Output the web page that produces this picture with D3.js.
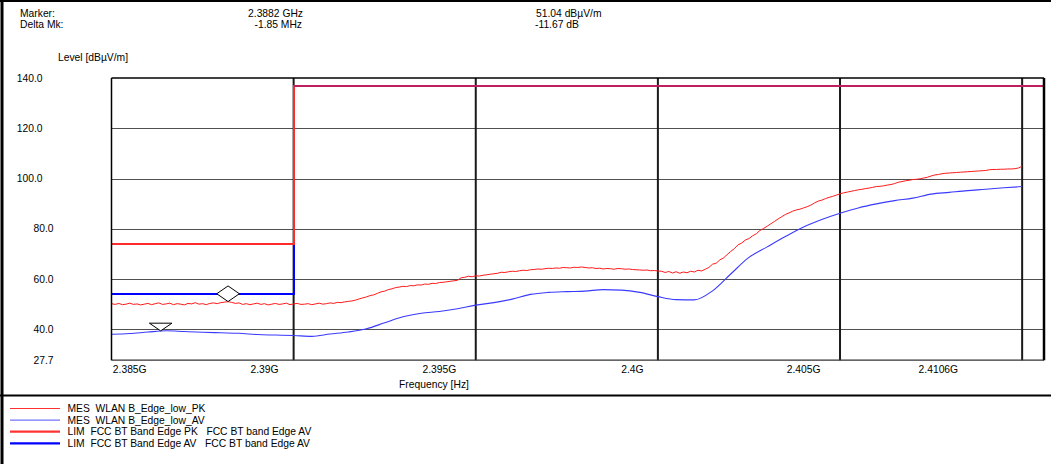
<!DOCTYPE html>
<html>
<head>
<meta charset="utf-8">
<script src="https://cdn.jsdelivr.net/npm/d3@7"></script>
<style>
  html, body { margin: 0; padding: 0; background: #fff; }
  svg { display: block; font-family: Arial, "Liberation Sans", sans-serif; }
  text { fill: #000; white-space: pre; }
</style>
</head>
<body>
<svg id="chart" width="1051" height="464"></svg>
<script>
// ---- Sweep data (frequency in GHz, level in dBµV/m) ----
// Peak detector trace, one reading every 0.1 MHz from 2.385 GHz
const pkStart = 2.385;
const pkStepGHz = 0.0001;
const pkLevels = [
  50.2, 49.9, 50.3, 49.8, 50.0, 50.4, 49.9, 50.1, 49.7, 50.0,
  50.3, 49.8, 50.2, 50.5, 49.9, 50.1, 50.4, 49.8, 50.2, 50.0,
  49.7, 50.3, 50.1, 50.6, 50.0, 50.2, 49.8, 50.3, 50.5, 50.2,
  50.6, 50.8, 51.0, 50.7, 50.3, 50.5, 49.9, 50.2, 49.8, 50.1,
  50.4, 49.9, 50.2, 49.7, 50.0, 50.3, 49.9, 50.1, 50.4, 49.8,
  50.1, 50.3, 49.9, 50.0, 50.2, 49.8, 50.1, 50.4, 50.0, 50.2,
  50.5, 50.3, 50.7, 50.6, 50.9, 51.1, 51.3, 51.6, 52.1, 52.5,
  52.9, 53.4, 53.7, 54.3, 54.9, 55.2, 55.8, 56.1, 56.6, 56.8,
  57.1, 57.0, 57.4, 57.3, 57.7, 57.6, 58.0, 57.9, 58.3, 58.2,
  58.6, 58.7, 58.9, 59.1, 59.3, 59.5, 60.5, 60.7, 61.1, 60.9,
  61.3, 61.2, 61.5, 61.7, 61.9, 62.1, 62.3, 62.7, 62.6, 62.9,
  63.1, 63.0, 63.3, 63.5, 63.4, 63.7, 63.8, 64.0, 63.9, 64.1,
  64.3, 64.2, 64.4, 64.3, 64.6, 64.5, 64.4, 64.7, 64.6, 64.8,
  64.6, 64.4, 64.5, 64.2, 64.3, 64.0, 64.2, 64.1, 63.9, 64.2,
  64.1, 63.9, 64.0, 63.8, 63.7, 63.6, 63.5, 63.6, 63.3, 63.4,
  63.2, 63.1, 62.6, 63.0, 62.4, 62.9, 62.3, 62.8, 62.5, 63.1,
  62.8, 63.5, 63.2, 63.9, 64.6, 65.9, 66.3, 67.6, 68.4, 69.7,
  71.0, 72.1, 73.6, 74.3, 75.5, 76.1, 77.2, 78.0, 79.3, 80.1,
  81.0, 82.0, 82.9, 83.9, 84.8, 85.7, 86.3, 87.0, 87.5, 87.8,
  88.3, 88.8, 89.4, 90.3, 91.0, 91.4, 92.0, 92.5, 92.9, 93.4,
  93.9, 94.3, 94.6, 94.9, 95.2, 95.5, 95.7, 96.0, 96.2, 96.5,
  96.8, 96.9, 97.1, 97.4, 97.6, 98.0, 98.5, 98.8, 99.1, 99.3,
  99.6, 99.7, 99.9, 100.2, 100.5, 101.0, 101.4, 101.6, 101.9, 102.1,
  102.2, 102.3, 102.4, 102.5, 102.6, 102.7, 102.8, 102.9, 103.0, 103.1,
  103.2, 103.5, 103.6, 103.6, 103.7, 103.7, 103.8, 103.8, 103.9, 104.2,
  104.9
];

// Average detector trace, one reading every 0.5 MHz from 2.385 GHz
const avStart = 2.385;
const avStepGHz = 0.0005;
const avLevels = [
  38.0, 38.3, 38.9, 39.4, 39.1, 38.8, 38.6, 38.4, 37.9, 37.7,
  37.5, 37.2, 38.1, 38.9, 40.2, 42.6, 45.0, 46.4, 47.1, 48.2,
  49.6, 50.6, 52.0, 53.9, 54.7, 55.0, 55.2, 55.8, 55.6, 54.7,
  53.0, 51.8, 51.7, 55.3, 62.0, 68.6, 72.8, 76.9, 80.7, 83.7,
  86.2, 88.3, 89.9, 91.2, 92.2, 93.8, 94.5, 95.2, 95.7, 96.3,
  96.8
];

// Limit lines (step at the 2.390 GHz restricted band edge)
const limitPkFreqs  = [2.385, 2.390, 2.390, 2.4106];
const limitPkLevels = [74.0, 74.0, 136.9, 136.9];
const limitAvFreqs  = [2.385, 2.390, 2.390, 2.4106];
const limitAvLevels = [54.0, 54.0, 136.9, 136.9];

// Axes
const freqRange = [2.385, 2.4106];
const levelRange = [27.7, 140];
const levelTicks = [140, 120, 100, 80, 60, 40, 27.7];
const levelGrid = [120, 100, 80, 60, 40];
const freqGrid = [2.390, 2.395, 2.400, 2.405, 2.410];
const freqLabelPos = [2.3855, 2.3892, 2.3940, 2.3993, 2.4040, 2.4077];
const freqLabels = ["2.385G", "2.39G", "2.395G", "2.4G", "2.405G", "2.4106G"];

// Marker and delta marker
const markerFreqGHz = 2.3882;
const markerLevel = 51.04;
const deltaFreqMHz = -1.85;
const deltaLevelDb = -11.67;

// Legend
const legendNames = [
  "MES  WLAN B_Edge_low_PK",
  "MES  WLAN B_Edge_low_AV",
  "LIM  FCC BT Band Edge PK   FCC BT band Edge AV",
  "LIM  FCC BT Band Edge AV   FCC BT band Edge AV"
];

// ---- Drawing ----
const svg = d3.select("#chart");
const W = 1051, H = 464;
const plot = { left: 111.5, right: 1044, top: 78, bottom: 360.2 };
const fontSize = "10.3px";

const x = d3.scaleLinear().domain(freqRange).range([plot.left, plot.right]);
const y = d3.scaleLinear().domain(levelRange).range([plot.bottom, plot.top]);

const colPk = "#ff1a1a", colAv = "#3a3aff";
const colLimPk = "#ff2a2a", colLimAv = "#0000ff";

// Header text
const hdr = svg.append("g").attr("font-size", fontSize);
hdr.append("text").attr("x", 20).attr("y", 16.5).text("Marker:");
hdr.append("text").attr("x", 20).attr("y", 28).text("Delta Mk:");
hdr.append("text").attr("x", 303).attr("y", 16.5).attr("text-anchor", "end")
  .text(d3.format(".4f")(markerFreqGHz) + " GHz");
hdr.append("text").attr("x", 302).attr("y", 28).attr("text-anchor", "end")
  .text(d3.format(".2f")(deltaFreqMHz).replace("−", "-") + " MHz");
hdr.append("text").attr("x", 536).attr("y", 16.5)
  .text(d3.format(".2f")(markerLevel) + " dBµV/m");
hdr.append("text").attr("x", 535).attr("y", 28)
  .text(d3.format(".2f")(deltaLevelDb).replace("−", "-") + " dB");
hdr.append("text").attr("x", 58).attr("y", 61).text("Level [dBµV/m]");

// Horizontal grid
svg.append("g").selectAll("line").data(levelGrid).join("line")
  .attr("x1", plot.left).attr("x2", plot.right)
  .attr("y1", d => Math.round(y(d)) + 0.5).attr("y2", d => Math.round(y(d)) + 0.5)
  .attr("stroke", "#505050").attr("stroke-width", 1);

// Vertical grid
svg.append("g").selectAll("line").data(freqGrid).join("line")
  .attr("x1", d => x(d)).attr("x2", d => x(d))
  .attr("y1", plot.top).attr("y2", plot.bottom)
  .attr("stroke", "#1a1a1a").attr("stroke-width", 2);

// Level tick labels
svg.append("g").attr("font-size", fontSize).selectAll("text").data(levelTicks).join("text")
  .attr("x", d => d >= 100 ? 42.5 : 53.5)
  .attr("y", d => y(d))
  .attr("dy", "0.35em")
  .attr("text-anchor", "end")
  .text(d => d3.format(".1f")(d));

// Frequency tick labels and axis title
svg.append("g").attr("font-size", fontSize).selectAll("text").data(freqLabelPos).join("text")
  .attr("x", d => x(d)).attr("y", 373)
  .attr("text-anchor", "middle")
  .text((d, i) => freqLabels[i]);
svg.append("text").attr("font-size", fontSize)
  .attr("x", 434).attr("y", 388).attr("text-anchor", "middle").text("Frequency [Hz]");

// Traces, clipped to the plot area
svg.append("clipPath").attr("id", "plotClip").append("rect")
  .attr("x", plot.left).attr("y", plot.top)
  .attr("width", plot.right - plot.left).attr("height", plot.bottom - plot.top);
const traces = svg.append("g").attr("clip-path", "url(#plotClip)");

const pkData = pkLevels.map((v, i) => [pkStart + i * pkStepGHz, v]);
const avData = avLevels.map((v, i) => [avStart + i * avStepGHz, v]);
const limPkData = limitPkFreqs.map((f, i) => [f, limitPkLevels[i]]);
const limAvData = limitAvFreqs.map((f, i) => [f, limitAvLevels[i]]);

const lineLin = d3.line().x(d => x(d[0])).y(d => y(d[1]));
const lineSmooth = d3.line().x(d => x(d[0])).y(d => y(d[1])).curve(d3.curveMonotoneX);

traces.append("path").datum(avData).attr("d", lineSmooth)
  .attr("fill", "none").attr("stroke", colAv).attr("stroke-width", 1.1);
traces.append("path").datum(pkData).attr("d", lineLin)
  .attr("fill", "none").attr("stroke", colPk).attr("stroke-width", 1)
  .attr("stroke-linejoin", "round");

// Limit lines are axis-aligned steps, drawn without anti-aliasing
traces.append("path").datum(limAvData).attr("d", lineLin)
  .attr("fill", "none").attr("stroke", colLimAv).attr("stroke-width", 2)
  .attr("shape-rendering", "crispEdges");
traces.append("path").datum(limPkData).attr("d", lineLin)
  .attr("fill", "none").attr("stroke", colLimPk).attr("stroke-width", 2)
  .attr("shape-rendering", "crispEdges");
// Where both limits share the upper level, the AV line shows through the PK line
traces.append("path").datum(limAvData.slice(2)).attr("d", lineLin)
  .attr("fill", "none").attr("stroke", colLimAv).attr("stroke-width", 2)
  .attr("stroke-opacity", 0.25).attr("shape-rendering", "crispEdges");

// Marker (diamond resting on the trace) and delta marker (triangle pointing at the trace)
const mx = x(markerFreqGHz), my = y(markerLevel);
const dmx = x(markerFreqGHz + deltaFreqMHz / 1000), dmy = y(markerLevel + deltaLevelDb);
const dw = 11.3, dh = 7.8;
svg.append("path")
  .attr("d", `M${mx},${my} L${mx + dw},${my - dh} L${mx},${my - 2 * dh} L${mx - dw},${my - dh} Z`)
  .attr("fill", "#fff").attr("stroke", "#000").attr("stroke-width", 1);
svg.append("path")
  .attr("d", `M${dmx},${dmy} L${dmx + dw},${dmy - 7.7} L${dmx - dw},${dmy - 7.7} Z`)
  .attr("fill", "#fff").attr("stroke", "#000").attr("stroke-width", 1);

// Plot frame
const frame = svg.append("g").attr("fill", "none");
frame.append("line").attr("x1", plot.left).attr("x2", plot.right)
  .attr("y1", plot.top).attr("y2", plot.top).attr("stroke", "#000").attr("stroke-width", 1.5);
frame.append("line").attr("x1", plot.left).attr("x2", plot.right)
  .attr("y1", plot.bottom).attr("y2", plot.bottom).attr("stroke", "#333").attr("stroke-width", 1.2);
frame.append("line").attr("x1", plot.left).attr("x2", plot.left)
  .attr("y1", plot.top).attr("y2", plot.bottom).attr("stroke", "#000").attr("stroke-width", 1.5);
frame.append("line").attr("x1", plot.right).attr("x2", plot.right)
  .attr("y1", plot.top).attr("y2", plot.bottom).attr("stroke", "#000").attr("stroke-width", 2.5);

// Outer borders of the report panel
svg.append("line").attr("x1", 0).attr("x2", W).attr("y1", 1).attr("y2", 1)
  .attr("stroke", "#000").attr("stroke-width", 2);
svg.append("line").attr("x1", 2).attr("x2", 2).attr("y1", 0).attr("y2", H)
  .attr("stroke", "#000").attr("stroke-width", 3);
svg.append("line").attr("x1", 0).attr("x2", W).attr("y1", 395.5).attr("y2", 395.5)
  .attr("stroke", "#000").attr("stroke-width", 2);

// Legend
const legendColors = ["#ff3030", "#5050ff", "#ff3333", "#0000ff"];
const legendWidths = [1, 1, 2.2, 2.2];
const lg = svg.append("g").attr("font-size", fontSize);
const rowY = i => 408.5 + i * 11.6;
lg.selectAll("line").data(legendNames).join("line")
  .attr("x1", 10).attr("x2", 60)
  .attr("y1", (d, i) => rowY(i)).attr("y2", (d, i) => rowY(i))
  .attr("stroke", (d, i) => legendColors[i])
  .attr("stroke-width", (d, i) => legendWidths[i]);
lg.selectAll("text").data(legendNames).join("text")
  .attr("x", 67.5).attr("y", (d, i) => rowY(i) + 3.7)
  .attr("xml:space", "preserve")
  .text(d => d);
</script>
</body>
</html>
